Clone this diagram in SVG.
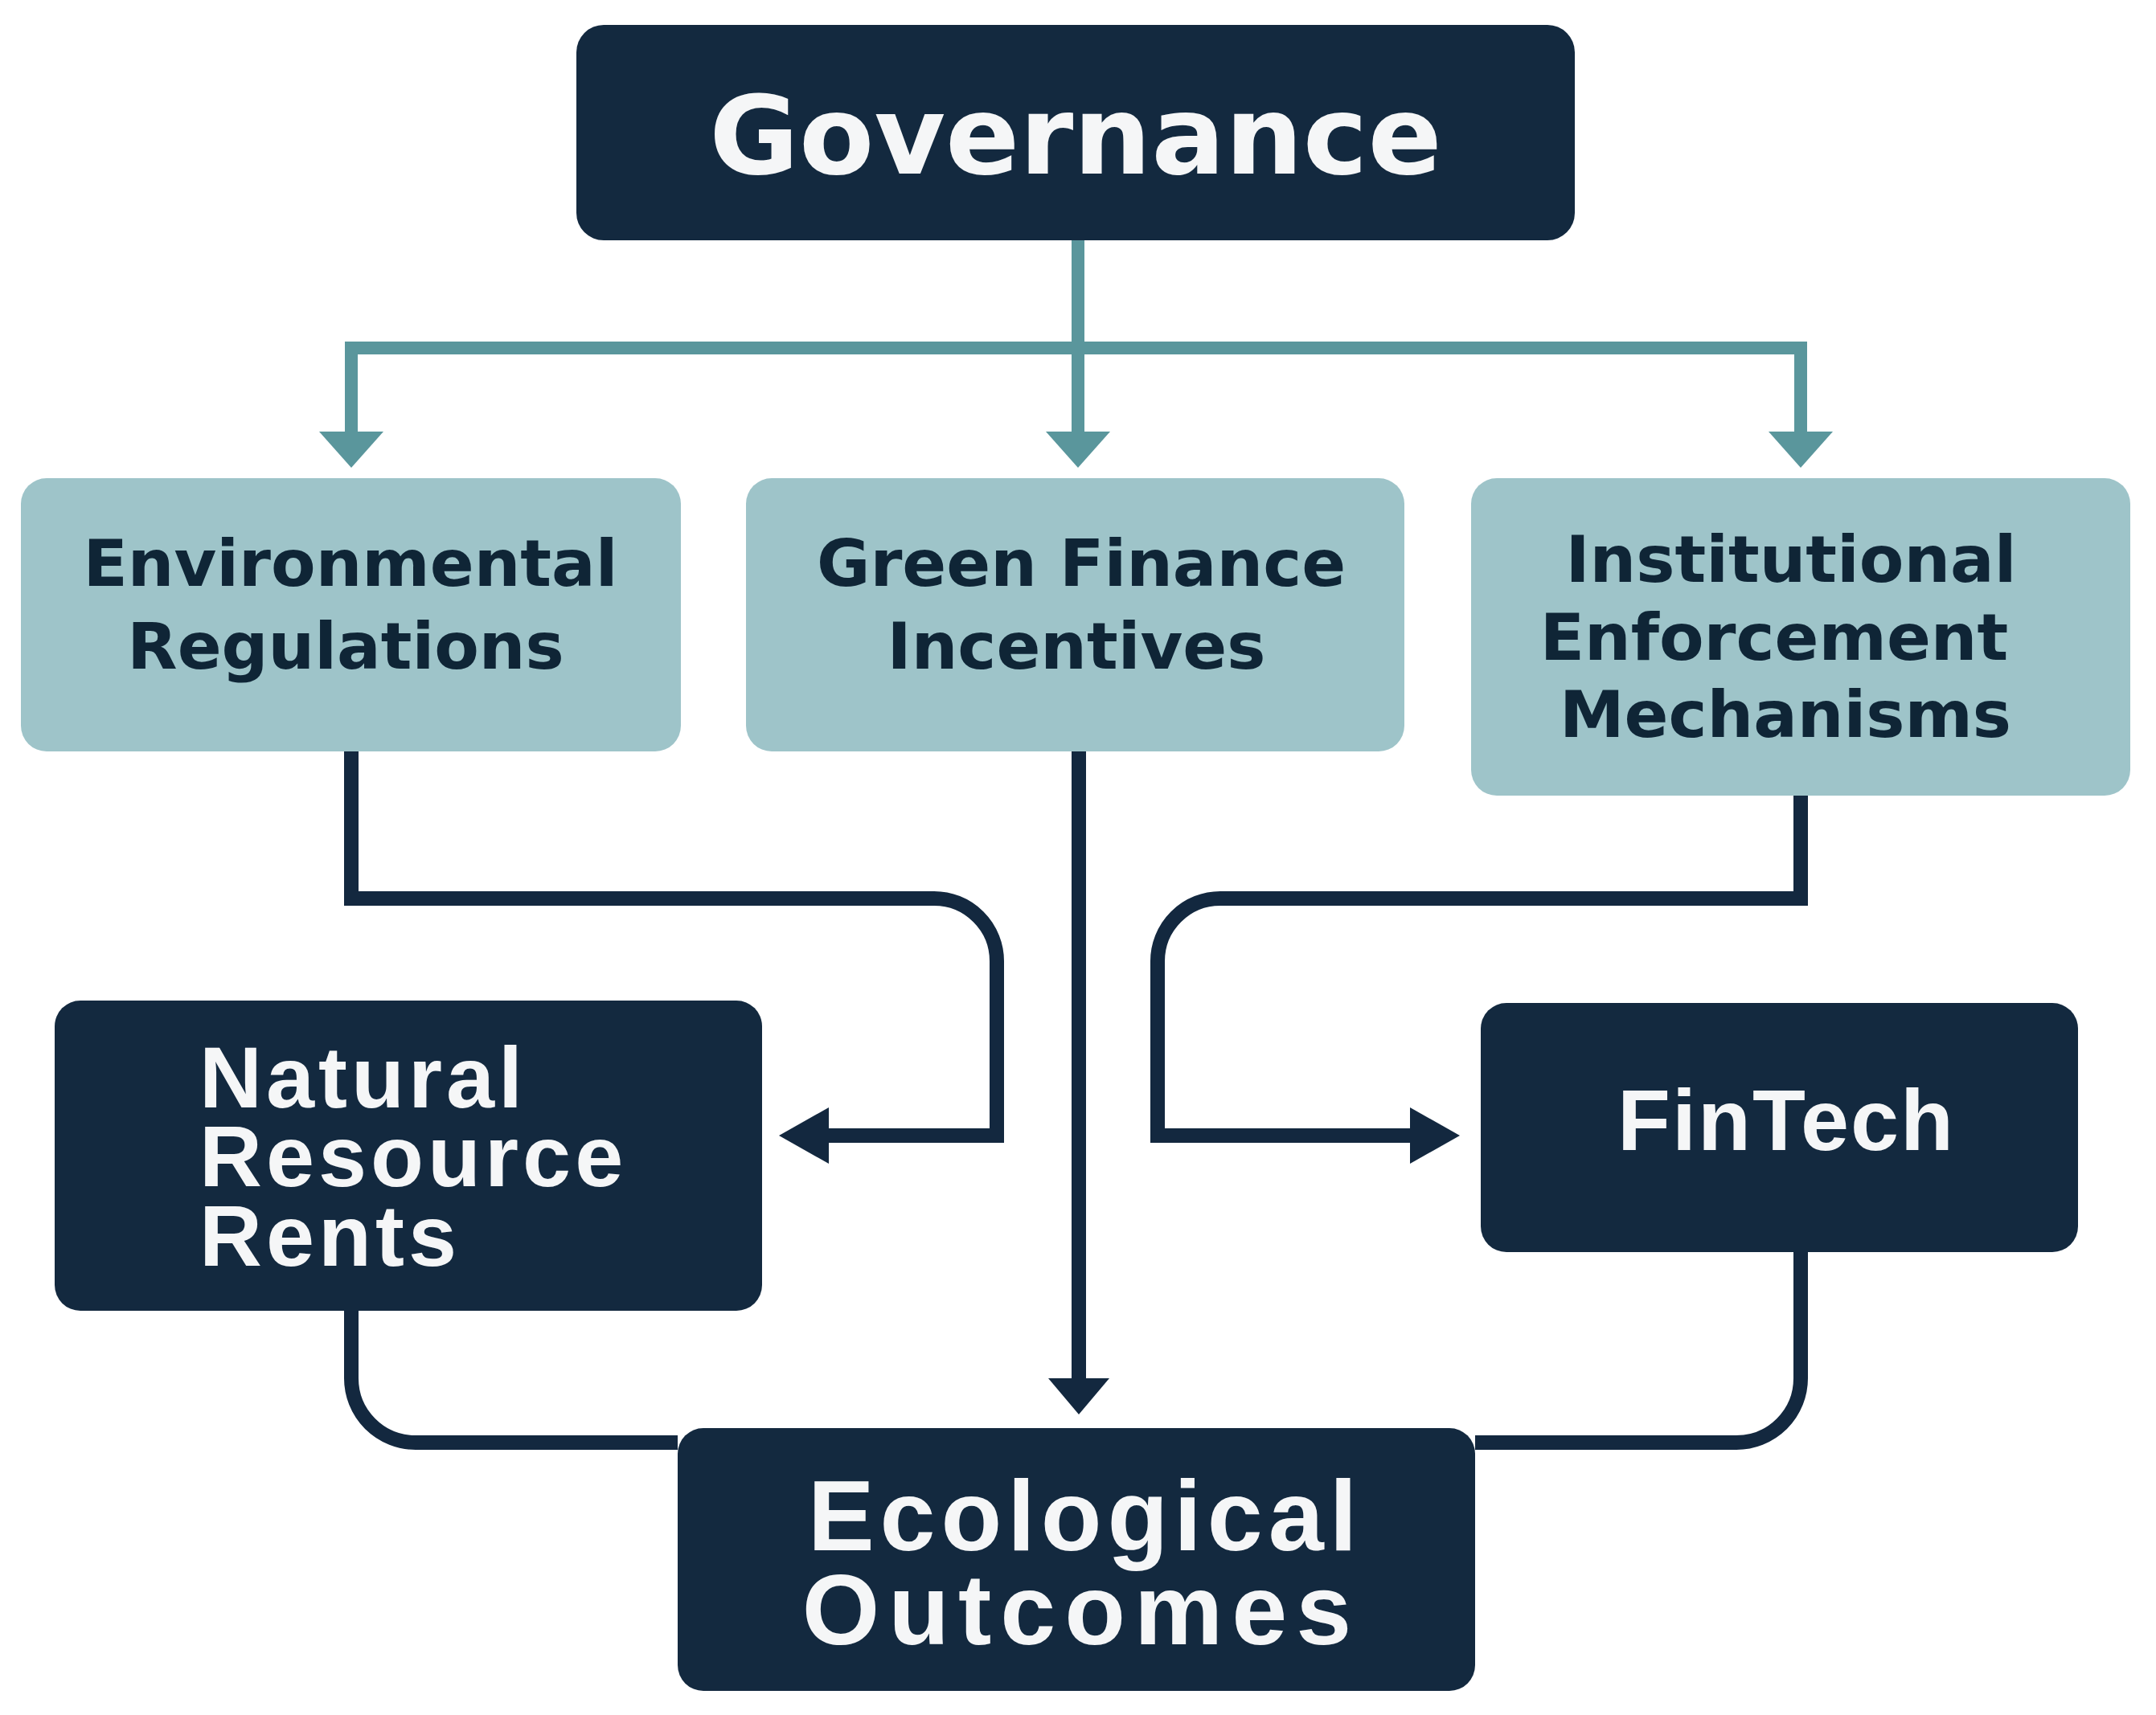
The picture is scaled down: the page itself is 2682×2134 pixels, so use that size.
<svg xmlns="http://www.w3.org/2000/svg" width="2682" height="2134" viewBox="0 0 2682 2134">
<style>
.dark{fill:#13293f}
.light{fill:#9ec4c9}
.t-white{fill:#f5f6f7;font-family:"Liberation Sans",Arial,sans-serif;font-weight:bold}
.t-gov{fill:#f5f6f7;font-family:"DejaVu Sans",sans-serif;font-weight:bold;font-size:136px;text-anchor:middle}
.t-light{fill:#0f2536;font-family:"DejaVu Sans",sans-serif;font-weight:bold;font-size:81px;text-anchor:middle}
.teal{fill:none;stroke:#5a969c;stroke-width:16;stroke-linejoin:miter;stroke-linecap:butt}
.navy{fill:none;stroke:#13283f;stroke-width:18;stroke-linejoin:miter;stroke-linecap:butt}
</style>
<defs>
<marker id="ahTeal" markerUnits="userSpaceOnUse" viewBox="0 0 45 80" markerWidth="45" markerHeight="80" refX="0" refY="40" orient="auto">
<path d="M0,0 L45,40 L0,80 Z" fill="#5a969c"/>
</marker>
<marker id="ahNavyH" markerUnits="userSpaceOnUse" viewBox="0 0 62 70" markerWidth="62" markerHeight="70" refX="0" refY="35" orient="auto">
<path d="M0,0 L62,35 L0,70 Z" fill="#13283f"/>
</marker>
<marker id="ahNavyV" markerUnits="userSpaceOnUse" viewBox="0 0 45 76" markerWidth="45" markerHeight="76" refX="0" refY="38" orient="auto">
<path d="M0,0 L45,38 L0,76 Z" fill="#13283f"/>
</marker>
</defs>
<rect width="2682" height="2134" fill="#ffffff"/>
<g id="connectors">
<path class="teal" d="M1341 297 V537" marker-end="url(#ahTeal)"/>
<path class="teal" d="M437 433 V537" marker-end="url(#ahTeal)"/>
<path class="teal" d="M2240 433 V537" marker-end="url(#ahTeal)"/>
<path class="teal" d="M437 441 V433 H2240 V441"/>
<path class="navy" d="M437 935 V1118 H1162 A78 78 0 0 1 1240 1196 V1413 H1031" marker-end="url(#ahNavyH)"/>
<path class="navy" d="M1342 935 V1715" marker-end="url(#ahNavyV)"/>
<path class="navy" d="M2240 989 V1118 H1518 A78 78 0 0 0 1440 1196 V1413 H1754" marker-end="url(#ahNavyH)"/>
<path class="navy" d="M437 1631 V1715 A80 80 0 0 0 517 1795 H843"/>
<path class="navy" d="M2240 1558 V1715 A80 80 0 0 1 2160 1795 H1835"/>
</g>
<g id="governance">
<rect class="dark" x="717" y="31" width="1242" height="268" rx="34"/>
<text class="t-gov" x="1338" y="216">Governance</text>
</g>
<g id="environmental-regulations">
<rect class="light" x="26" y="595" width="821" height="340" rx="32"/>
<text class="t-light" x="436" y="729">Environmental</text>
<text class="t-light" x="430" y="832">Regulations</text>
</g>
<g id="green-finance-incentives">
<rect class="light" x="928" y="595" width="819" height="340" rx="32"/>
<text class="t-light" x="1345" y="729">Green Finance</text>
<text class="t-light" x="1339" y="832">Incentives</text>
</g>
<g id="institutional-enforcement">
<rect class="light" x="1830" y="595" width="820" height="395" rx="32"/>
<text class="t-light" x="2228" y="724">Institutional</text>
<text class="t-light" x="2207" y="821">Enforcement</text>
<text class="t-light" x="2221" y="917">Mechanisms</text>
</g>
<g id="natural-resource-rents">
<rect class="dark" x="68" y="1245" width="880" height="386" rx="32"/>
<text class="t-white" x="248" y="1378" font-size="108" letter-spacing="5">Natural</text>
<text class="t-white" x="248" y="1476" font-size="108" letter-spacing="5">Resource</text>
<text class="t-white" x="248" y="1575" font-size="108" letter-spacing="5">Rents</text>
</g>
<g id="fintech">
<rect class="dark" x="1842" y="1248" width="743" height="310" rx="32"/>
<text class="t-white" x="2222" y="1431" font-size="108" letter-spacing="2" text-anchor="middle">FinTech</text>
</g>
<g id="ecological-outcomes">
<rect class="dark" x="843" y="1777" width="992" height="327" rx="32"/>
<text class="t-white" x="1350" y="1929" font-size="124" letter-spacing="7" text-anchor="middle">Ecological</text>
<text class="t-white" x="1345" y="2046" font-size="124" letter-spacing="11" text-anchor="middle">Outcomes</text>
</g>
</svg>
